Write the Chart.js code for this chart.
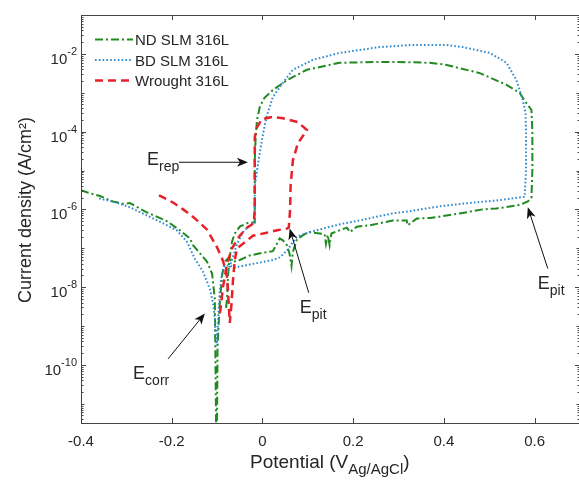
<!DOCTYPE html>
<html>
<head>
<meta charset="utf-8">
<script src="https://cdn.jsdelivr.net/npm/chart.js@4.4.0/dist/chart.umd.min.js"></script>
<style>
  body { margin: 0; overflow: hidden; background: #fff; }
</style>
</head>
<body>
<canvas id="chart" width="582" height="483"></canvas>
<script>
// potentials (V vs Ag/AgCl) and current densities (A/cm2)
const ndE = [-0.400, -0.387, -0.358, -0.330, -0.307, -0.292, -0.255, -0.211, -0.182, -0.160, -0.153, -0.131, -0.122, -0.111, -0.105, -0.101,
  -0.099, -0.094, -0.089, -0.083, -0.076, -0.065, -0.050, -0.028, 0.004, 0.023, 0.032, 0.038, 0.045, 0.054, 0.060, 0.064, 0.067, 0.076,
  0.093, 0.104, 0.126, 0.137, 0.140, 0.144, 0.148, 0.152, 0.170, 0.186, 0.193, 0.208, 0.237, 0.259, 0.287, 0.318, 0.320, 0.340, 0.369,
  0.391, 0.441, 0.485, 0.516, 0.538, 0.567, 0.585, 0.593,
  0.595, 0.595, 0.593, 0.582, 0.567, 0.538, 0.479, 0.406, 0.369, 0.296, 0.259, 0.170, 0.098, 0.054, 0.023, 0.004, -0.006, -0.012, -0.015,
  -0.017, -0.017, -0.017,
  -0.021, -0.034, -0.050, -0.061, -0.067, -0.072, -0.076, -0.078, -0.081];
const ndI = [3.1e-6, 2.75e-6, 2.2e-6, 1.6e-6, 1.4e-6, 1.45e-6, 8.4e-7, 5.0e-7, 2.9e-7, 1.8e-7, 1.2e-7, 6.0e-8, 4.5e-8, 2.2e-8, 5e-9, 1e-13,
  3e-10, 4e-9, 2.0e-8, 4.5e-8, 5.5e-8, 4.5e-8, 5.0e-8, 6.5e-8, 7.8e-8, 8.4e-8, 1.3e-7, 1.8e-7, 1.6e-7, 1.2e-7, 7e-8, 3.5e-8, 8e-8, 1.7e-7,
  2.3e-7, 2.6e-7, 2.4e-7, 2.3e-7, 1.3e-7, 2.2e-7, 1.2e-7, 2.4e-7, 2.9e-7, 3.4e-7, 2.6e-7, 3.6e-7, 3.9e-7, 4.4e-7, 5.2e-7, 5.2e-7, 3.9e-7, 5.8e-7, 6.0e-7,
  6.5e-7, 8.1e-7, 1.0e-6, 1.06e-6, 1.15e-6, 1.3e-6, 1.6e-6, 2.0e-6,
  1e-5, 1e-4, 3.6e-4, 5.4e-4, 9.9e-4, 1.6e-3, 3.2e-3, 5.2e-3, 5.9e-3, 6.2e-3, 6.2e-3, 5.9e-3, 3.9e-3, 2.1e-3, 1.18e-3, 7.3e-4, 4.3e-4, 2.0e-4, 7.2e-5,
  1.8e-5, 3.7e-6, 4.6e-7,
  4.6e-7, 4.4e-7, 3.6e-7, 2.4e-7, 1.5e-7, 6e-8, 2e-8, 5e-9, 2.5e-9];

const bdE = [-0.360, -0.330, -0.292, -0.255, -0.219, -0.189, -0.167, -0.149, -0.131, -0.116, -0.109, -0.105, -0.103, -0.101,
  -0.098, -0.094, -0.089, -0.083, -0.072, -0.061, -0.039, -0.006, 0.023, 0.038, 0.054, 0.060, 0.076, 0.104, 0.142, 0.177, 0.215,
  0.252, 0.287, 0.325, 0.391, 0.441, 0.516, 0.578,
  0.581, 0.581, 0.580, 0.574, 0.560, 0.538, 0.501, 0.441, 0.406, 0.331, 0.259, 0.170, 0.111, 0.067, 0.045, 0.023, 0.009, 0.000,
  -0.006, -0.012, -0.017, -0.017,
  -0.028, -0.043, -0.056, -0.065, -0.074, -0.080];
const bdI = [1.9e-6, 1.6e-6, 1.13e-6, 7.0e-7, 4.4e-7, 2.9e-7, 1.5e-7, 5.4e-8, 2.5e-8, 9e-9, 4e-9, 1.6e-9, 6e-10, 3.1e-10,
  1.2e-9, 8e-9, 2.5e-8, 3.6e-8, 3.6e-8, 3.2e-8, 3.6e-8, 4.3e-8, 5.0e-8, 5.8e-8, 8.7e-8, 1.1e-7, 2.0e-7, 2.6e-7, 3.4e-7, 4.3e-7, 5.2e-7,
  6.5e-7, 7.9e-7, 9.0e-7, 1.2e-6, 1.4e-6, 1.7e-6, 2.1e-6,
  1e-5, 1e-4, 3.0e-4, 6.5e-4, 2.1e-3, 5.9e-3, 1.06e-2, 1.5e-2, 1.7e-2, 1.7e-2, 1.5e-2, 1.06e-2, 7.0e-3, 3.9e-3, 1.8e-3, 7.8e-4, 2.4e-4, 7.2e-5,
  2.8e-5, 1.0e-5, 3.7e-6, 4.6e-7,
  3.9e-7, 2.6e-7, 1.3e-7, 6e-8, 3e-8, 2e-8];

const wrE = [-0.228, -0.197, -0.175, -0.160, -0.144, -0.122, -0.100, -0.087, -0.078, -0.076, -0.072,
  -0.068, -0.065, -0.061, -0.056, -0.043, -0.021, 0.009, 0.032, 0.054, 0.058,
  0.061, 0.062, 0.067, 0.078, 0.098, 0.078, 0.045, 0.023, -0.001, -0.012, -0.017, -0.017, -0.017, -0.019,
  -0.034, -0.050, -0.067, -0.078, -0.087, -0.092, -0.094];
const wrI = [2.3e-6, 1.5e-6, 1.0e-6, 7.5e-7, 5.2e-7, 3.0e-7, 1.05e-7, 4.8e-8, 1.8e-8, 8e-9, 1.2e-9,
  4e-9, 1.5e-8, 5e-8, 1.0e-7, 1.3e-7, 2.1e-7, 2.5e-7, 2.9e-7, 3.2e-7, 3.4e-7,
  1.0e-6, 4e-6, 1.8e-5, 5e-5, 1.1e-4, 1.76e-4, 2.2e-4, 2.4e-4, 2.1e-4, 1.3e-4, 7e-5, 1e-5, 1e-6, 4.4e-7,
  3.4e-7, 2.1e-7, 1.0e-7, 4e-8, 1e-8, 3e-9, 2e-9];

const seriesNames = ['ND SLM 316L', 'BD SLM 316L', 'Wrought 316L'];
const xTicks = [-0.4, -0.2, 0, 0.2, 0.4, 0.6];
const yTicks = [1e-2, 1e-4, 1e-6, 1e-8, 1e-10];
const yTickExps = ['-2', '-4', '-6', '-8', '-10'];

// arrow annotations: subscript, tip and tail in data units
const annSubs = ['rep', 'pit', 'pit', 'corr'];
const annTipE = [-0.032, 0.060, 0.585, -0.127];
const annTipI = [1.63e-5, 3.2e-7, 1.13e-6, 2.1e-9];
const annTailE = [-0.184, 0.102, 0.629, -0.208];
const annTailI = [1.63e-5, 7.2e-9, 3.0e-8, 1.43e-10];

const font = "'Liberation Sans', Arial, sans-serif";
const ink = '#262626';
const styles = [
  { color: '#1f8a1f', width: 2, dash: [8, 3, 2, 3] },
  { color: '#2f8ad0', width: 2, dash: [1.6, 2.2] },
  { color: '#e8202a', width: 2.5, dash: [8, 5] }
];

function pts(xs, ys) {
  return xs.map((x, i) => ({ x: x, y: ys[i] }));
}

function arrow(ctx, x1, y1, x2, y2) {
  const a = Math.atan2(y2 - y1, x2 - x1);
  const c = Math.cos(a), s = Math.sin(a);
  ctx.beginPath();
  ctx.moveTo(x1, y1);
  ctx.lineTo(x2 - 7 * c, y2 - 7 * s);
  ctx.stroke();
  ctx.beginPath();
  ctx.moveTo(x2, y2);
  ctx.lineTo(x2 - 11 * c + 4.5 * s, y2 - 11 * s - 4.5 * c);
  ctx.lineTo(x2 - 8 * c, y2 - 8 * s);
  ctx.lineTo(x2 - 11 * c - 4.5 * s, y2 - 11 * s + 4.5 * c);
  ctx.closePath();
  ctx.fill();
}

const frame = {
  id: 'frame',
  afterDatasetsDraw(chart) {
    const ctx = chart.ctx, a = chart.chartArea;
    const x = chart.scales.x, y = chart.scales.y;
    ctx.save();
    ctx.strokeStyle = '#444';
    ctx.lineWidth = 1;
    ctx.setLineDash([]);
    ctx.strokeRect(Math.round(a.left) + 0.5, Math.round(a.top) + 0.5, Math.round(a.right - a.left), Math.round(a.bottom - a.top));

    ctx.beginPath();
    xTicks.forEach(v => {
      const px = Math.round(x.getPixelForValue(v)) + 0.5;
      ctx.moveTo(px, a.bottom); ctx.lineTo(px, a.bottom - 5);
      ctx.moveTo(px, a.top); ctx.lineTo(px, a.top + 5);
    });
    for (let e = -12; e <= -1; e++) {
      for (let k = 1; k < 10; k++) {
        const v = k * Math.pow(10, e);
        if (v < y.min || v > y.max) continue;
        const py = Math.round(y.getPixelForValue(v)) + 0.5;
        const len = (k === 1 && e % 2 === 0) ? 5 : (k === 1 ? 3.5 : 2.5);
        ctx.moveTo(a.left, py); ctx.lineTo(a.left + len, py);
        ctx.moveTo(a.right, py); ctx.lineTo(a.right - len, py);
      }
    }
    ctx.stroke();

    // y tick labels 10^n
    ctx.fillStyle = ink;
    ctx.textAlign = 'right';
    ctx.textBaseline = 'alphabetic';
    yTicks.forEach((v, i) => {
      const py = y.getPixelForValue(v);
      ctx.font = '11px ' + font;
      const w = ctx.measureText(yTickExps[i]).width;
      ctx.fillText(yTickExps[i], a.left - 4, py + 1);
      ctx.font = '15px ' + font;
      ctx.fillText('10', a.left - 4 - w, py + 10);
    });
    ctx.restore();
  },
  afterDraw(chart) {
    const ctx = chart.ctx, a = chart.chartArea;
    const x = chart.scales.x, y = chart.scales.y;
    ctx.save();
    ctx.fillStyle = ink;
    ctx.textBaseline = 'alphabetic';
    ctx.textAlign = 'left';

    // x title with subscript
    ctx.font = '19px ' + font;
    let t = 'Potential (V';
    ctx.fillText(t, 250, 468);
    let cx = 250 + ctx.measureText(t).width;
    ctx.font = '15px ' + font;
    ctx.fillText('Ag/AgCl', cx, 474);
    cx += ctx.measureText('Ag/AgCl').width;
    ctx.font = '19px ' + font;
    ctx.fillText(')', cx, 468);

    // y title
    ctx.save();
    ctx.translate(31, 210);
    ctx.rotate(-Math.PI / 2);
    ctx.textAlign = 'center';
    ctx.font = '18px ' + font;
    ctx.fillText('Current density (A/cm\u00b2)', 0, 0);
    ctx.restore();

    // legend
    styles.forEach((st, i) => {
      const ly = 39.5 + i * 20.5;
      ctx.beginPath();
      ctx.strokeStyle = st.color;
      ctx.lineWidth = st.width;
      ctx.setLineDash(st.dash);
      ctx.moveTo(95, ly); ctx.lineTo(133, ly);
      ctx.stroke();
      ctx.setLineDash([]);
      ctx.font = '15px ' + font;
      ctx.fillStyle = ink;
      ctx.fillText(seriesNames[i], 135, ly + 5.5);
    });

    // arrows and E labels
    const offs = [[-32, 3], [-9, 20], [-10, 20], [-35, 20]];
    ctx.strokeStyle = '#111';
    ctx.fillStyle = '#111';
    ctx.lineWidth = 1;
    annSubs.forEach((sub, i) => {
      const x1 = x.getPixelForValue(annTailE[i]), y1 = y.getPixelForValue(annTailI[i]);
      const x2 = x.getPixelForValue(annTipE[i]), y2 = y.getPixelForValue(annTipI[i]);
      arrow(ctx, x1, y1, x2, y2);
      const tx = x1 + offs[i][0], ty = y1 + offs[i][1];
      ctx.fillStyle = ink;
      ctx.font = '18px ' + font;
      ctx.fillText('E', tx, ty);
      const ew = ctx.measureText('E').width;
      ctx.font = '14px ' + font;
      ctx.fillText(sub, tx + ew, ty + 6);
      ctx.fillStyle = '#111';
    });
    ctx.restore();
  }
};

new Chart(document.getElementById('chart'), {
  type: 'scatter',
  data: {
    datasets: [
      { label: seriesNames[0], data: pts(ndE, ndI), order: 2 },
      { label: seriesNames[1], data: pts(bdE, bdI), order: 1 },
      { label: seriesNames[2], data: pts(wrE, wrI), order: 0 }
    ].map((d, i) => Object.assign(d, {
      showLine: true,
      borderColor: styles[i].color,
      borderWidth: styles[i].width,
      borderDash: styles[i].dash,
      pointRadius: 0,
      tension: 0,
      clip: 0
    }))
  },
  options: {
    responsive: false,
    animation: false,
    devicePixelRatio: 1,
    layout: { padding: { left: 81, top: 15, right: 2, bottom: 22 } },
    plugins: { legend: { display: false }, tooltip: { enabled: false } },
    scales: {
      x: {
        type: 'linear', min: -0.4, max: 0.7,
        grid: { display: false, drawTicks: false },
        border: { display: false },
        ticks: {
          color: ink, padding: 10, maxRotation: 0, autoSkip: false,
          font: { family: font, size: 15 },
          callback: v => String(Math.round(v * 10) / 10)
        },
        afterBuildTicks: s => { s.ticks = xTicks.map(v => ({ value: v })); }
      },
      y: {
        type: 'logarithmic', min: 3.2e-12, max: 0.1,
        grid: { display: false, drawTicks: false },
        border: { display: false },
        ticks: { display: false },
        afterFit: s => { s.width = 0; }
      }
    }
  },
  plugins: [frame]
});
</script>
</body>
</html>
